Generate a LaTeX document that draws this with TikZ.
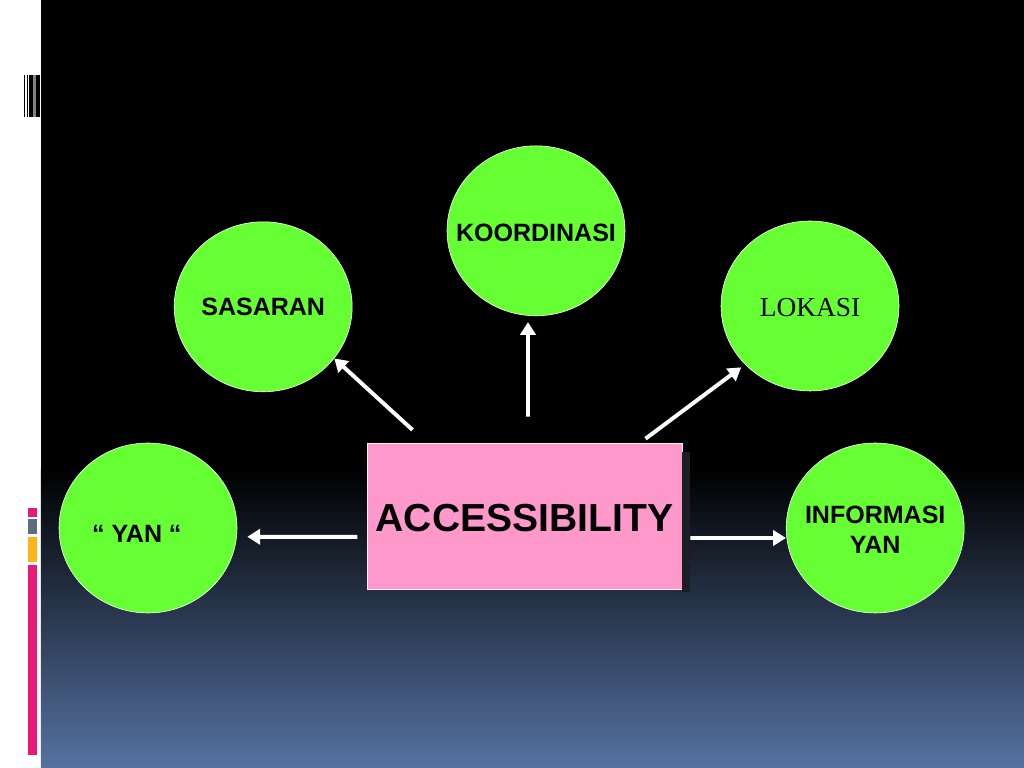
\documentclass[tikz,border=0pt]{standalone}
\usepackage{fontspec}
\setmainfont{Liberation Sans}
\newfontfamily\lokfont{Liberation Serif}
\usetikzlibrary{arrows.meta,shapes.geometric}
\definecolor{ballgreen}{HTML}{66FF33}
\definecolor{boxpink}{HTML}{FF99CC}
\definecolor{boxshade}{HTML}{1A1E26}
\definecolor{slateblue}{HTML}{5672A2}
\definecolor{barpink}{HTML}{E8197A}
\definecolor{bargray}{HTML}{5F6B7E}
\definecolor{barorange}{HTML}{FDB515}
\tikzset{
	greenball/.style={draw=white, thin, fill=ballgreen, ellipse, minimum width=4.45cm, minimum height=4.25cm, inner sep=0pt, font=\bfseries\fontsize{17.8}{21.3}\selectfont},
	pinkbox/.style={draw=white!85!boxpink, thin, fill=boxpink, rectangle, minimum width=7.88cm, minimum height=3.65cm, inner sep=0pt, font=\bfseries\fontsize{27.8}{32}\selectfont},
	whitearrow/.style={draw=white, line width=2.8pt, -{Triangle[length=0.32cm, width=0.38cm]}},
}
\newcommand{\ballname}[3][0cm]{\makebox[0pt]{\raisebox{#2}[\height][\depth]{\kern#1#3\kern-#1}}}
\begin{document}
\begin{tikzpicture}
	\useasboundingbox (0.00,0.00) rectangle (25.60,19.20);
	\fill[white] (0.00,0.00) rectangle (25.60,19.20);
	\fill[black] (1.02,0.00) rectangle (25.60,19.20);
	\shade[top color=black, bottom color=slateblue] (1.02,0.00) rectangle (25.60,7.45);
	\fill[black] (0.61,16.28) rectangle (0.63,17.33);
	\fill[black] (0.67,16.28) rectangle (0.69,17.33);
	\fill[black] (0.72,16.28) rectangle (0.83,17.33);
	\fill[gray] (0.83,16.28) rectangle (0.89,17.33);
	\fill[black] (0.89,16.28) rectangle (1.00,17.33);
	\fill[barpink] (0.70,6.28) rectangle (0.93,6.50);
	\fill[bargray] (0.70,5.85) rectangle (0.93,6.23);
	\fill[barorange] (0.70,5.15) rectangle (0.93,5.78);
	\fill[barpink] (0.70,0.33) rectangle (0.93,5.08);
	\node[pinkbox] (acc) at (13.11,6.30) {\raisebox{-0.05cm}[\height][\depth]{ACCESSIBILITY}};
	\fill[boxshade] ([yshift=-0.22cm]acc.north east) rectangle ([xshift=0.2cm, yshift=-0.07cm]acc.south east);
	\node[greenball] (sas) at (6.58,11.53) {\ballname{0cm}{SASARAN}};
	\node[greenball] (koo) at (13.40,13.43) {\ballname{-0.05cm}{KOORDINASI}};
	\node[greenball, font=\lokfont\fontsize{19.5}{22}\selectfont] (lok) at (20.25,11.55) {\ballname{-0.03cm}{LOKASI}};
	\node[greenball] (inf) at (21.88,6.00) {\ballname{-0.12cm}{\begin{tabular}{@{}c@{}}INFORMASI\\YAN\end{tabular}}};
	\node[greenball] (yan) at (3.70,6.00) {\ballname[-0.28cm]{-0.15cm}{“ YAN “}};
	\draw[whitearrow] ([xshift=1.15cm, yshift=0.32cm]acc.north west) -- (sas.-36);
	\draw[whitearrow] ([xshift=0.09cm, yshift=0.65cm]acc.north) -- ([xshift=-0.20cm, yshift=-0.15cm]koo.south);
	\draw[whitearrow, shorten >=0.12cm] ([xshift=-0.92cm, yshift=0.10cm]acc.north east) -- (lok.222);
	\draw[whitearrow] ([xshift=0.20cm, yshift=-0.55cm]acc.east) -- ([yshift=-0.25cm]inf.west);
	\draw[whitearrow] ([xshift=-0.23cm, yshift=-0.52cm]acc.west) -- ([xshift=0.25cm, yshift=-0.22cm]yan.east);
\end{tikzpicture}
\end{document}
